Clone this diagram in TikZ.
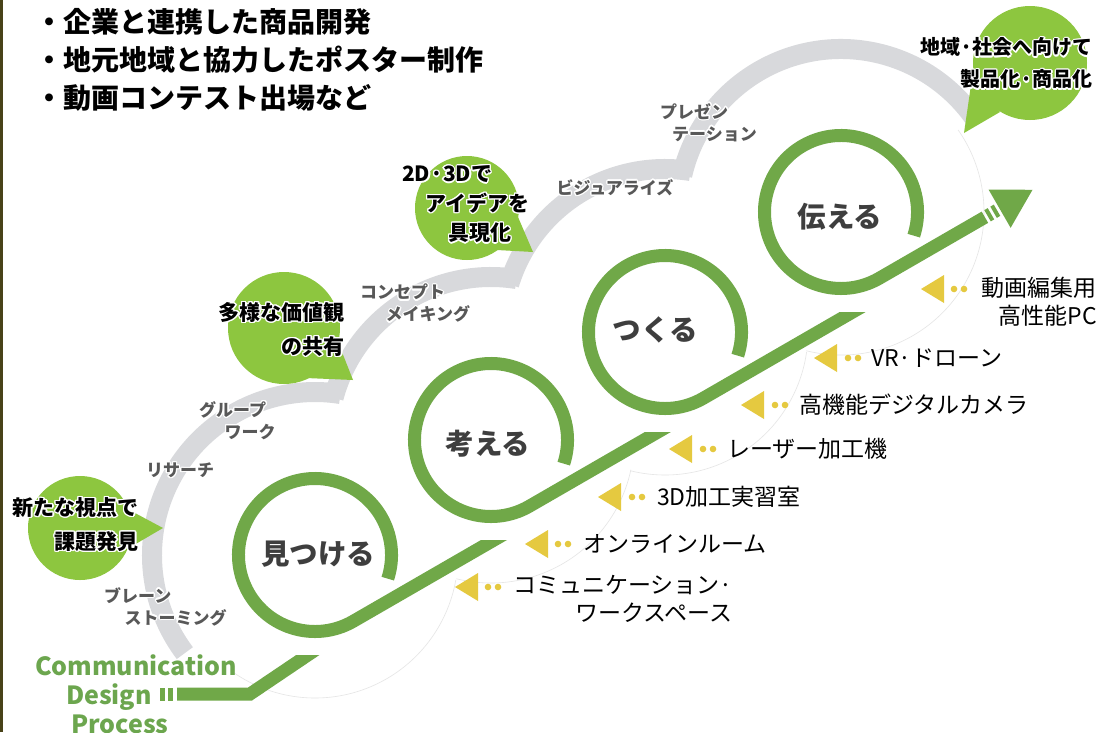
\documentclass[tikz,border=0pt]{standalone}
\usepackage{fontspec}
\setmainfont{Noto Sans CJK JP}
\usepackage{contour}
\contourlength{1.2pt}
\usetikzlibrary{calc}

\definecolor{trackgreen}{RGB}{112,168,72}
\definecolor{bubblegreen}{RGB}{141,198,63}
\definecolor{bandgray}{RGB}{216,217,220}
\definecolor{pinyellow}{RGB}{229,201,64}
\definecolor{wordgray}{RGB}{88,88,88}
\definecolor{stepgray}{RGB}{62,62,62}
\definecolor{titlegreen}{RGB}{108,166,78}
\definecolor{framecolor}{RGB}{72,66,24}

\newcommand{\halo}[1]{\contour{white}{#1}}

\begin{document}
\begin{tikzpicture}[x=1pt, y=-1pt,
    track/.style={trackgreen, line width=13pt},
    band/.style={bandgray, line width=20pt},
    faint/.style={black!10, line width=0.6pt},
    bubble/.style={fill=bubblegreen},
    pin/.style={fill=pinyellow},
    steplabel/.style={font=\fontsize{28.5}{30}\selectfont\bfseries, text=stepgray, inner sep=0pt},
    word/.style={font=\fontsize{17}{22}\selectfont\bfseries, text=wordgray, inner sep=0pt, align=left, anchor=west},
    say/.style={font=\fontsize{21}{34}\selectfont\bfseries, inner sep=0pt},
    item/.style={font=\fontsize{23}{28}\selectfont, inner sep=0pt, anchor=west},
    cdp/.style={font=\fontsize{25}{30}\selectfont\bfseries, text=titlegreen, inner sep=0pt}
]
    % Cadre
    \useasboundingbox (0,0) rectangle (1099,732);
    \fill[white] (0,0) rectangle (1099,732);
    \draw[framecolor, line width=2.5pt] (1.25,0) -- (1.25,732);

    % Centres des boucles
    \coordinate (L1) at (315,555);
    \coordinate (L2) at (491,440);
    \coordinate (L3) at (665,332);
    \coordinate (L4) at (841,212);

    % Contour du nuage
    \draw[faint] ($(L1)+(125:143)$) arc[start angle=125, end angle=10, radius=143];
    \draw[faint] ($(L2)+(104:143)$) arc[start angle=104, end angle=12, radius=143];
    \draw[faint] ($(L3)+(104:143)$) arc[start angle=104, end angle=8, radius=143];
    \draw[faint] ($(L4)+(104:143)$) arc[start angle=104, end angle=-35, radius=143];

    % Bande grise
    \draw[band] ($(L1)+(-217:163)$) arc[start angle=-217, end angle=-81, radius=163];
    \draw[band] ($(L2)+(-165:163)$) arc[start angle=-165, end angle=-81, radius=163];
    \draw[band] ($(L3)+(-163:163)$) arc[start angle=-163, end angle=-81, radius=163];
    \draw[band] ($(L4)+(-167:163)$) arc[start angle=-167, end angle=-33, radius=163];

    % Bulles
    \fill[bubble] (80,528) circle[radius=52];
    \fill[bubble] (120,505) -- (163,528) -- (122,552) -- cycle;
    \fill[bubble] (284,328) circle[radius=56];
    \fill[bubble] (338,342) -- (353,380) -- (306,378) -- cycle;
    \fill[bubble] (467,208) circle[radius=52];
    \fill[bubble] (518,217) -- (533,252) -- (497,250) -- cycle;
    \fill[bubble] (1030,63) circle[radius=57];
    \fill[bubble] (972,78) -- (964,133) -- (1000,112) -- cycle;

    \node[say, align=right, anchor=east] (newview) at (139,525) {\halo{新たな視点で}\\\halo{課題発見}};
    \node[say, align=right, anchor=east] (values) at (345,330) {\halo{多様な価値観}\\\halo{の共有}};
    \node[say, align=left, anchor=west, font=\fontsize{21}{29.5}\selectfont\bfseries] (idea) at (402,205)
        {\halo{2D·3Dで}\\\hspace*{1.1em}\halo{アイデアを}\\\hspace*{2.2em}\halo{具現化}};
    \node[say, align=right, anchor=east, font=\fontsize{20}{32}\selectfont\bfseries] (society) at (1093,64)
        {\halo{地域·社会へ向けて}\\\halo{製品化·商品化}};

    % Mots du processus
    \node[word] (brainstorm) at (104,607) {\halo{ブレーン}\\\hspace*{1.2em}\halo{ストーミング}};
    \node[word, anchor=center] (research) at (180,471) {\halo{リサーチ}};
    \node[word] (groupwork) at (199,421) {\halo{グループ}\\\hspace*{1.5em}\halo{ワーク}};
    \node[word] (concept) at (360,304) {\halo{コンセプト}\\\hspace*{1.5em}\halo{メイキング}};
    \node[word, anchor=center] (visualize) at (615,188) {\halo{ビジュアライズ}};
    \node[word] (presentation) at (660,123) {\halo{プレゼン}\\\hspace*{0.7em}\halo{テーション}};

    % Piste verte
    \draw[track] (160,694) -- (165,694);
    \draw[track] (168,694) -- (173,694);
    \begin{scope}
        \clip (0,0) -- (275,0) -- (275,655) -- (1099,655) -- (1099,732) -- (0,732) -- cycle;
        \draw[track] (177,694) -- (250,694) -- ++(-34:100);
    \end{scope}
    \begin{scope}
        \clip (0,0) -- (451,0) -- (451,540) -- (1099,540) -- (1099,732) -- (0,732) -- cycle;
        \draw[track] ($(L1)+(18:76.5)$) arc[start angle=18, end angle=-300, radius=76.5] -- ++(-30:200);
    \end{scope}
    \begin{scope}
        \clip (0,0) -- (625,0) -- (625,432) -- (1099,432) -- (1099,732) -- (0,732) -- cycle;
        \draw[track] ($(L2)+(18:76.5)$) arc[start angle=18, end angle=-300, radius=76.5] -- ++(-30:200);
    \end{scope}
    \begin{scope}
        \clip (0,0) -- (801,0) -- (801,312) -- (1099,312) -- (1099,732) -- (0,732) -- cycle;
        \draw[track] ($(L3)+(18:76.5)$) arc[start angle=18, end angle=-300, radius=76.5] -- ++(-30:200);
    \end{scope}
    \draw[track] ($(L4)+(18:76.5)$) arc[start angle=18, end angle=-300, radius=76.5] -- ++(-30:122) coordinate (runout);
    \draw[track] ($(runout)+(-30:3)$) -- ++(-30:4);
    \draw[track] ($(runout)+(-30:10)$) -- ++(-30:4);
    \coordinate (headbase) at ($(runout)+(-30:17)$);
    \fill[trackgreen] ($(headbase)+(60:22)$) -- ($(headbase)+(-30:38)$) -- ($(headbase)+(240:22)$) -- cycle;

    % Etapes
    \node[steplabel] (find) at (318,554) {見つける};
    \node[steplabel] (think) at (488,444) {考える};
    \node[steplabel] (make) at (655,330) {つくる};
    \node[steplabel] (tell) at (840,217) {伝える};

    % Equipements
    \fill[pin] (455,587) -- (478,573) -- (478,601) -- cycle;
    \fill[pin] (488,587) circle[radius=3.3] (498,587) circle[radius=3.3];
    \node[item, align=right] (workspace) at (513,599) {コミュニケーション·\\ワークスペース};
    \fill[pin] (525,544) -- (548,530) -- (548,558) -- cycle;
    \fill[pin] (558,544) circle[radius=3.3] (568,544) circle[radius=3.3];
    \node[item] (online) at (583,544) {オンラインルーム};
    \fill[pin] (598,497) -- (621,483) -- (621,511) -- cycle;
    \fill[pin] (632,497) circle[radius=3.3] (642,497) circle[radius=3.3];
    \node[item] (lab3d) at (657,497) {3D加工実習室};
    \fill[pin] (669,449) -- (692,435) -- (692,463) -- cycle;
    \fill[pin] (703,449) circle[radius=3.3] (713,449) circle[radius=3.3];
    \node[item] (laser) at (727,449) {レーザー加工機};
    \fill[pin] (741,405) -- (764,391) -- (764,419) -- cycle;
    \fill[pin] (775,405) circle[radius=3.3] (785,405) circle[radius=3.3];
    \node[item] (camera) at (799,405) {高機能デジタルカメラ};
    \fill[pin] (814,358) -- (837,344) -- (837,372) -- cycle;
    \fill[pin] (848,358) circle[radius=3.3] (858,358) circle[radius=3.3];
    \node[item] (drone) at (871,358) {VR·ドローン};
    \fill[pin] (921,289) -- (944,275) -- (944,303) -- cycle;
    \fill[pin] (954,289) circle[radius=3.3] (964,289) circle[radius=3.3];
    \node[item, align=right, anchor=east] (editpc) at (1097,302) {動画編集用\\高性能PC};

    % Objectifs
    \node[font=\fontsize{28}{38}\selectfont\bfseries, align=left, anchor=west, inner sep=0pt] (goals) at (35,60)
        {・企業と連携した商品開発\\・地元地域と協力したポスター制作\\・動画コンテスト出場など};

    % Titre
    \node[cdp] (cdp1) at (136,665) {Communication};
    \node[cdp, anchor=east] (cdp2) at (152,697) {Design};
    \node[cdp] (cdp3) at (120,724) {Process};
\end{tikzpicture}
\end{document}
